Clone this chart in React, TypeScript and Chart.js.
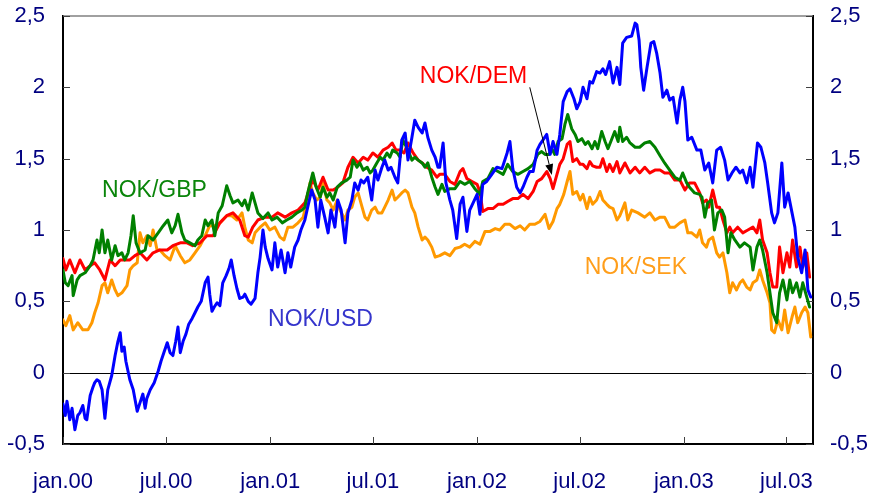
import React, { useEffect, useRef } from "react";
import { Chart, registerables } from "chart.js";

Chart.register(...registerables);

// x positions are days since 1 Jan 2000
const tickDays = [0, 182, 366, 547, 731, 912, 1096, 1277];
const tickLabels = ["jan.00", "jul.00", "jan.01", "jul.01", "jan.02", "jul.02", "jan.03", "jul.03"];
const yTickValues = [-0.5, 0, 0.5, 1, 1.5, 2, 2.5];

const usdDays = [
  0, 4, 7, 12, 16, 21, 26, 30, 35, 39,
  42, 48, 53, 56, 60, 64, 69, 74, 79, 86,
  92, 97, 101, 104, 108, 111, 118, 124, 131, 136,
  141, 145, 148, 154, 161, 168, 173, 178, 184, 189,
  194, 199, 203, 207, 212, 217, 222, 228, 233, 238,
  244, 251, 256, 259, 263, 267, 272, 277, 282, 288,
  293, 297, 302, 307, 312, 318, 321, 327, 332, 339,
  344, 348, 353, 357, 362, 369, 374, 379, 385, 392,
  397, 402, 409, 415, 420, 427, 432, 439, 445, 450,
  455, 462, 468, 473, 480, 485, 491, 498, 503, 510,
  515, 521, 526, 531, 538, 545, 551, 556, 563, 568,
  574, 579, 586, 591, 598, 604, 609, 616, 621, 627,
  634, 639, 644, 651, 657, 662, 665, 671, 676, 683,
  688, 695, 701, 706, 713, 718, 724, 731, 736, 741,
  748, 757, 766, 775, 784, 789, 794, 801, 807, 812,
  819, 824, 830, 837, 842, 849, 854, 860, 865, 872,
  877, 883, 890, 895, 902, 907, 913, 918, 925, 930,
  935, 942, 948, 953, 958, 965, 971, 978, 983, 988,
  995, 1004, 1010, 1013, 1017, 1020, 1025, 1031, 1038, 1043,
  1048, 1054, 1059, 1066, 1071, 1077, 1084, 1089, 1094, 1098,
  1103, 1110, 1119, 1126, 1133, 1140, 1147, 1154, 1161, 1168,
  1174, 1181, 1188, 1195, 1200, 1207, 1213, 1218, 1226, 1232,
  1239, 1244, 1251, 1256, 1262, 1269, 1274, 1280, 1287, 1292,
  1297, 1304, 1310, 1315, 1320,
];
const usdValues = [
  -0.22, -0.3, -0.2, -0.33, -0.25, -0.4, -0.3, -0.28, -0.23, -0.32,
  -0.33, -0.16, -0.1, -0.07, -0.05, -0.06, -0.12, -0.32, -0.12, -0.02,
  0.12, 0.22, 0.28, 0.15, 0.18, 0.08, -0.05, -0.12, -0.27, -0.21,
  -0.15, -0.25, -0.18, -0.12, -0.07, 0.01, 0.08, 0.14, 0.21, 0.14,
  0.12, 0.22, 0.32, 0.14, 0.22, 0.27, 0.34, 0.38, 0.42, 0.46,
  0.5, 0.63, 0.67, 0.55, 0.43, 0.46, 0.49, 0.47, 0.63, 0.68,
  0.73, 0.79, 0.68, 0.59, 0.52, 0.53, 0.55, 0.5, 0.48, 0.52,
  0.7, 0.81, 1.0, 0.88, 0.8, 0.72, 0.91, 0.74, 0.86, 0.7,
  0.84, 0.74, 0.88, 0.93, 1.0, 1.07, 1.16, 1.28, 1.21, 1.02,
  1.21, 1.09, 0.98, 1.14, 1.02, 1.21, 1.14, 0.91, 1.12, 1.21,
  1.33, 1.28, 1.35, 1.33, 1.37, 1.21, 1.42, 1.35, 1.44, 1.49,
  1.42, 1.44, 1.37, 1.33, 1.63, 1.68, 1.49, 1.65, 1.77, 1.72,
  1.68, 1.75, 1.65, 1.56, 1.51, 1.44, 1.44, 1.61, 1.33, 1.21,
  1.14, 0.94, 1.18, 1.23, 0.99, 1.14, 1.19, 1.25, 1.11, 1.32,
  1.34, 1.39, 1.44, 1.43, 1.54, 1.62, 1.43, 1.3, 1.26, 1.3,
  1.37, 1.41, 1.41, 1.56, 1.6, 1.64, 1.67, 1.53, 1.62, 1.53,
  1.67, 1.9, 1.97, 1.99, 1.92, 1.85, 1.9, 2.0, 1.92, 2.04,
  2.03, 2.11, 2.1, 2.13, 2.09, 2.18, 2.03, 2.14, 2.02, 2.31,
  2.35, 2.36, 2.45, 2.44, 2.33, 2.14, 1.98, 2.14, 2.31, 2.32,
  2.24, 2.1, 1.93, 1.98, 1.91, 1.93, 1.75, 1.91, 2.0, 1.9,
  1.63, 1.65, 1.56, 1.56, 1.42, 1.47, 1.33, 1.56, 1.58, 1.49,
  1.35, 1.4, 1.44, 1.4, 1.42, 1.33, 1.44, 1.3, 1.61, 1.58,
  1.47, 1.33, 1.12, 1.05, 1.12, 1.47, 1.16, 1.26, 1.12, 1.02,
  0.81, 0.7, 0.86, 0.58, 0.53,
];

const gbpDays = [
  0, 4, 9, 16, 18, 25, 30, 39, 48, 53,
  60, 64, 69, 74, 79, 86, 92, 97, 104, 109,
  115, 120, 124, 129, 136, 145, 150, 159, 168, 177,
  185, 192, 198, 203, 210, 215, 224, 233, 238, 245,
  251, 256, 263, 268, 274, 281, 289, 295, 300, 309,
  316, 321, 327, 334, 339, 344, 353, 362, 369, 378,
  387, 395, 404, 413, 422, 427, 432, 441, 447, 454,
  459, 466, 471, 477, 484, 492, 501, 507, 512, 519,
  524, 530, 537, 542, 547, 554, 560, 565, 572, 577,
  582, 590, 595, 600, 609, 616, 621, 627, 634, 639,
  644, 651, 657, 662, 669, 674, 683, 692, 701, 709,
  718, 727, 736, 741, 750, 759, 768, 777, 785, 794,
  803, 812, 821, 830, 838, 845, 851, 858, 863, 868,
  874, 881, 886, 891, 898, 904, 909, 916, 922, 927,
  934, 939, 944, 951, 957, 962, 969, 974, 980, 983,
  988, 995, 1001, 1010, 1018, 1027, 1036, 1045, 1054, 1062,
  1071, 1080, 1089, 1094, 1101, 1106, 1115, 1124, 1128, 1133,
  1138, 1145, 1150, 1156, 1163, 1168, 1174, 1179, 1186, 1195,
  1203, 1213, 1218, 1225, 1230, 1235, 1243, 1248, 1253, 1260,
  1265, 1271, 1278, 1283, 1288, 1295, 1301, 1306, 1313, 1318,
];
const gbpValues = [
  0.72, 0.63, 0.61, 0.68, 0.54, 0.65, 0.68, 0.7, 0.75, 0.79,
  0.93, 0.84, 1.0, 0.84, 0.93, 0.79, 0.89, 0.82, 0.84, 0.79,
  0.84, 0.96, 1.1, 0.91, 0.84, 0.86, 0.96, 0.93, 0.98, 1.03,
  1.07, 0.98, 1.03, 1.11, 0.98, 0.93, 0.91, 0.89, 0.93, 0.96,
  1.07, 1.03, 1.07, 0.96, 1.12, 1.17, 1.31, 1.24, 1.19, 1.21,
  1.17, 1.21, 1.14, 1.26, 1.19, 1.12, 1.08, 1.12, 1.07, 1.09,
  1.05, 1.07, 1.09, 1.12, 1.14, 1.16, 1.26, 1.4, 1.3, 1.23,
  1.3, 1.23, 1.26, 1.21, 1.3, 1.33, 1.35, 1.37, 1.49, 1.44,
  1.47, 1.42, 1.44, 1.4, 1.42, 1.47, 1.51, 1.49, 1.54, 1.51,
  1.56, 1.54, 1.51, 1.63, 1.56, 1.49, 1.51, 1.49, 1.47, 1.44,
  1.47, 1.37, 1.3, 1.25, 1.32, 1.27, 1.29, 1.29, 1.34, 1.32,
  1.34, 1.29, 1.25, 1.34, 1.36, 1.43, 1.41, 1.39, 1.46, 1.41,
  1.39, 1.41, 1.43, 1.46, 1.53, 1.55, 1.53, 1.53, 1.57, 1.53,
  1.62, 1.64, 1.74, 1.81, 1.71, 1.67, 1.62, 1.64, 1.6, 1.62,
  1.57, 1.62, 1.57, 1.69, 1.62, 1.57, 1.64, 1.69, 1.62, 1.72,
  1.62, 1.65, 1.61, 1.58, 1.58, 1.61, 1.62, 1.58, 1.52, 1.47,
  1.42, 1.37, 1.35, 1.4, 1.33, 1.3, 1.26, 1.25, 1.23, 1.09,
  1.19, 1.21, 1.0, 1.12, 1.14, 1.09, 0.84, 0.98, 0.93, 0.88,
  0.91, 0.88, 0.72, 0.88, 0.93, 0.86, 0.7, 0.56, 0.42, 0.35,
  0.56, 0.65, 0.51, 0.65, 0.56, 0.63, 0.53, 0.63, 0.53, 0.46,
];

const demDays = [
  0, 5, 12, 21, 30, 39, 48, 56, 65, 74,
  83, 92, 101, 109, 118, 127, 136, 148, 159, 171,
  184, 194, 207, 219, 229, 242, 254, 265, 277, 289,
  300, 312, 321, 327, 335, 344, 357, 369, 379, 392,
  404, 415, 427, 436, 441, 450, 459, 468, 477, 485,
  494, 503, 512, 521, 530, 538, 547, 556, 565, 574,
  581, 588, 595, 602, 609, 618, 627, 634, 642, 651,
  660, 665, 674, 683, 692, 701, 706, 713, 722, 731,
  736, 741, 750, 759, 768, 777, 785, 794, 803, 812,
  821, 830, 837, 845, 854, 860, 865, 872, 877, 883,
  890, 895, 900, 907, 913, 918, 925, 930, 935, 942,
  948, 953, 960, 965, 971, 978, 983, 992, 1001, 1010,
  1018, 1027, 1036, 1045, 1054, 1062, 1071, 1080, 1089, 1098,
  1106, 1115, 1124, 1129, 1136, 1140, 1147, 1154, 1159, 1165,
  1172, 1177, 1182, 1191, 1200, 1209, 1218, 1225, 1230, 1235,
  1243, 1248, 1253, 1260, 1265, 1271, 1278, 1283, 1288, 1295,
  1301, 1306, 1313, 1318,
];
const demValues = [
  0.8, 0.72, 0.79, 0.7, 0.79, 0.72, 0.75, 0.77, 0.72, 0.65,
  0.79, 0.75, 0.79, 0.79, 0.79, 0.82, 0.84, 0.79, 0.84, 0.86,
  0.86, 0.89, 0.91, 0.91, 0.89, 0.91, 0.96, 0.96, 1.05, 1.1,
  1.12, 1.07, 0.96, 0.95, 1.02, 1.07, 1.09, 1.09, 1.12, 1.09,
  1.12, 1.14, 1.19, 1.3, 1.35, 1.28, 1.37, 1.28, 1.28, 1.3,
  1.33, 1.44, 1.51, 1.47, 1.51, 1.49, 1.54, 1.51, 1.56, 1.58,
  1.61, 1.56, 1.56, 1.54, 1.61, 1.54, 1.49, 1.47, 1.44, 1.42,
  1.37, 1.39, 1.39, 1.34, 1.32, 1.41, 1.43, 1.36, 1.34, 1.32,
  1.27, 1.13, 1.15, 1.15, 1.18, 1.18, 1.2, 1.22, 1.22, 1.25,
  1.22, 1.27, 1.34, 1.36, 1.41, 1.36, 1.29, 1.39, 1.46, 1.5,
  1.6, 1.62, 1.48, 1.5, 1.46, 1.46, 1.43, 1.48, 1.45, 1.44,
  1.44, 1.5, 1.41, 1.46, 1.41, 1.48, 1.4, 1.47, 1.4, 1.44,
  1.4, 1.44, 1.4, 1.42, 1.42, 1.4, 1.4, 1.35, 1.35, 1.28,
  1.33, 1.33, 1.26, 1.19, 1.21, 1.16, 1.28, 1.16, 1.16, 1.07,
  0.98, 1.02, 0.98, 1.02, 0.98, 1.0, 1.02, 0.98, 1.07, 0.93,
  0.84, 0.7, 0.6, 0.6, 0.88, 0.7, 0.84, 0.74, 0.93, 0.74,
  0.88, 0.74, 0.84, 0.67,
];

const sekDays = [
  0, 5, 12, 18, 26, 35, 44, 51, 56, 62,
  69, 74, 79, 86, 92, 97, 104, 113, 118, 124,
  131, 136, 141, 148, 154, 159, 166, 171, 180, 189,
  198, 207, 215, 224, 233, 242, 251, 259, 268, 277,
  289, 298, 307, 316, 321, 327, 334, 339, 348, 357,
  365, 374, 383, 390, 397, 406, 415, 424, 431, 436,
  441, 448, 454, 459, 466, 471, 477, 484, 489, 498,
  503, 510, 515, 521, 528, 533, 538, 545, 551, 556,
  563, 568, 574, 581, 586, 591, 598, 604, 609, 616,
  621, 627, 634, 639, 644, 651, 657, 665, 674, 683,
  692, 701, 709, 718, 727, 736, 745, 754, 763, 771,
  780, 789, 798, 807, 815, 824, 833, 842, 851, 858,
  865, 872, 877, 884, 890, 895, 900, 907, 913, 918,
  925, 930, 935, 942, 948, 953, 960, 965, 971, 978,
  983, 992, 997, 1004, 1015, 1027, 1036, 1045, 1054, 1062,
  1071, 1080, 1089, 1098, 1103, 1110, 1119, 1124, 1129, 1136,
  1140, 1147, 1154, 1159, 1165, 1172, 1177, 1182, 1189, 1195,
  1200, 1207, 1213, 1218, 1225, 1230, 1235, 1243, 1248, 1251,
  1256, 1262, 1269, 1274, 1280, 1287, 1292, 1297, 1304, 1310,
  1315, 1320,
];
const sekValues = [
  0.37, 0.33, 0.4, 0.3, 0.35, 0.3, 0.3, 0.35, 0.42, 0.49,
  0.61, 0.63, 0.56, 0.65, 0.58, 0.54, 0.56, 0.61, 0.72, 0.75,
  0.77, 0.98, 0.91, 0.96, 0.89, 1.0, 0.86, 0.86, 0.82, 0.79,
  0.89, 0.82, 0.77, 0.79, 0.84, 0.89, 0.96, 1.03, 1.03, 1.05,
  1.1, 1.1, 1.07, 1.12, 1.02, 0.93, 0.91, 0.98, 1.02, 1.05,
  1.0, 1.02, 0.95, 0.93, 1.02, 1.02, 1.05, 1.09, 1.21, 1.33,
  1.26, 1.21, 1.23, 1.33, 1.21, 1.19, 1.14, 1.21, 1.14, 1.07,
  1.14, 1.16, 1.23, 1.26, 1.16, 1.09, 1.07, 1.14, 1.16, 1.12,
  1.12, 1.16, 1.21, 1.28, 1.21, 1.23, 1.26, 1.28, 1.26, 1.16,
  1.12, 1.02, 0.93, 0.95, 0.93, 0.88, 0.81, 0.82, 0.84, 0.82,
  0.87, 0.88, 0.9, 0.88, 0.92, 0.9, 0.99, 0.99, 1.01, 1.0,
  1.04, 1.04, 1.01, 1.03, 1.0, 1.04, 1.04, 1.06, 1.11, 1.01,
  1.06, 1.15, 1.18, 1.25, 1.34, 1.41, 1.25, 1.27, 1.21, 1.25,
  1.15, 1.23, 1.18, 1.21, 1.27, 1.21, 1.18, 1.16, 1.15, 1.07,
  1.1, 1.19, 1.07, 1.14, 1.12, 1.09, 1.12, 1.07, 1.09, 1.09,
  1.02, 1.02, 1.05, 1.07, 0.98, 0.98, 0.95, 1.0, 0.91, 0.88,
  0.93, 0.95, 0.84, 0.81, 0.84, 0.7, 0.56, 0.63, 0.58, 0.63,
  0.65, 0.6, 0.58, 0.63, 0.65, 0.72, 0.65, 0.56, 0.49, 0.3,
  0.28, 0.37, 0.3, 0.44, 0.28, 0.39, 0.46, 0.35, 0.42, 0.46,
  0.42, 0.25,
];

// text annotations, placed in data coordinates (day, value)
const seriesLabels = [
  { text: "NOK/GBP", day: 69, value: 1.23, color: "#0a850a" },
  { text: "NOK/DEM", day: 630, value: 2.03, color: "#ff0000" },
  { text: "NOK/USD", day: 362, value: 0.327, color: "#3535cc" },
  { text: "NOK/SEK", day: 921, value: 0.692, color: "#ff9e1b" },
];
const arrowFrom = { day: 824, value: 2.0 };
const arrowTo = { day: 863, value: 1.385 };

const FONT = "'Liberation Sans', Arial, sans-serif";

const fmt = (v: number) => String(v).replace(".", ",");

const pairs = (days: number[], vals: number[]) => days.map((d, i) => ({ x: d, y: vals[i] }));

const decorPlugin = {
  id: "decor",
  beforeDatasetsDraw(chart: any) {
    const { ctx, chartArea: a, scales } = chart;
    const x = scales.x;
    const y = scales.y;
    ctx.save();
    // zero line
    const y0 = Math.round(y.getPixelForValue(0)) + 0.5;
    ctx.strokeStyle = "#000";
    ctx.lineWidth = 1;
    ctx.beginPath();
    ctx.moveTo(a.left, y0);
    ctx.lineTo(a.right, y0);
    ctx.stroke();
    // top frame line
    ctx.strokeStyle = "#808080";
    ctx.lineWidth = 1.5;
    ctx.beginPath();
    ctx.moveTo(a.left, a.top);
    ctx.lineTo(a.right, a.top);
    ctx.stroke();
    // inward tick marks
    ctx.strokeStyle = "#404040";
    ctx.lineWidth = 1;
    yTickValues.forEach((v) => {
      const py = Math.round(y.getPixelForValue(v)) + 0.5;
      ctx.beginPath();
      ctx.moveTo(a.left, py);
      ctx.lineTo(a.left + 7, py);
      ctx.moveTo(a.right - 7, py);
      ctx.lineTo(a.right, py);
      ctx.stroke();
    });
    tickDays.forEach((d) => {
      const px = Math.round(x.getPixelForValue(d)) + 0.5;
      ctx.beginPath();
      ctx.moveTo(px, a.bottom);
      ctx.lineTo(px, a.bottom - 7);
      ctx.stroke();
    });
    ctx.restore();
  },
  afterDatasetsDraw(chart: any) {
    const { ctx, scales } = chart;
    const x = scales.x;
    const y = scales.y;
    ctx.save();
    ctx.font = `23px ${FONT}`;
    ctx.textBaseline = "alphabetic";
    ctx.textAlign = "left";
    seriesLabels.forEach((l) => {
      ctx.fillStyle = l.color;
      ctx.fillText(l.text, x.getPixelForValue(l.day), y.getPixelForValue(l.value));
    });
    // arrow
    const x1 = x.getPixelForValue(arrowFrom.day);
    const y1 = y.getPixelForValue(arrowFrom.value);
    const x2 = x.getPixelForValue(arrowTo.day);
    const y2 = y.getPixelForValue(arrowTo.value);
    const ang = Math.atan2(y2 - y1, x2 - x1);
    const len = 11;
    const half = 4;
    const bx = x2 - len * Math.cos(ang);
    const by = y2 - len * Math.sin(ang);
    ctx.strokeStyle = "#000";
    ctx.lineWidth = 1;
    ctx.beginPath();
    ctx.moveTo(x1, y1);
    ctx.lineTo(bx, by);
    ctx.stroke();
    ctx.fillStyle = "#000";
    ctx.beginPath();
    ctx.moveTo(x2, y2);
    ctx.lineTo(bx + half * Math.sin(ang), by - half * Math.cos(ang));
    ctx.lineTo(bx - half * Math.sin(ang), by + half * Math.cos(ang));
    ctx.closePath();
    ctx.fill();
    ctx.restore();
  },
};

export default function App() {
  const canvasRef = useRef<HTMLCanvasElement | null>(null);

  useEffect(() => {
    document.body.style.margin = "0";
    const canvas = canvasRef.current;
    if (!canvas) return;
    const lineStyle = {
      borderWidth: 3,
      pointRadius: 0,
      tension: 0,
      borderJoinStyle: "round" as const,
      borderCapStyle: "round" as const,
      fill: false,
    };
    const yAxisCommon = {
      type: "linear" as const,
      min: -0.5,
      max: 2.5,
      grid: { display: false, drawTicks: false },
      border: { display: true, color: "#000", width: 2 },
      ticks: {
        stepSize: 0.5,
        padding: 18,
        color: "#000080",
        font: { family: FONT, size: 22 },
        callback: (v: any) => fmt(Number(v)),
      },
    };
    const chart = new Chart(canvas, {
      type: "line",
      data: {
        datasets: [
          { ...lineStyle, label: "NOK/USD", data: pairs(usdDays, usdValues), borderColor: "#0000ff" },
          { ...lineStyle, label: "NOK/GBP", data: pairs(gbpDays, gbpValues), borderColor: "#008000" },
          { ...lineStyle, label: "NOK/DEM", data: pairs(demDays, demValues), borderColor: "#ff0000" },
          { ...lineStyle, label: "NOK/SEK", data: pairs(sekDays, sekValues), borderColor: "#ff9900" },
        ],
      },
      options: {
        animation: false,
        responsive: false,
        devicePixelRatio: 1,
        events: [],
        layout: { padding: { top: 16, left: 0, right: 0, bottom: 0 } },
        plugins: { legend: { display: false }, tooltip: { enabled: false } },
        scales: {
          x: {
            type: "linear",
            position: "bottom",
            min: 0,
            max: 1324,
            grid: { display: false, drawTicks: false },
            border: { display: true, color: "#000", width: 2 },
            afterBuildTicks: (scale: any) => {
              scale.ticks = tickDays.map((d) => ({ value: d }));
            },
            afterFit: (scale: any) => {
              scale.height = 50;
              scale.paddingLeft = 0;
              scale.paddingRight = 0;
            },
            ticks: {
              autoSkip: false,
              maxRotation: 0,
              padding: 25,
              color: "#000080",
              font: { family: FONT, size: 22 },
              callback: (_v: any, i: number) => tickLabels[i],
            },
          },
          y: {
            ...yAxisCommon,
            position: "left",
            afterFit: (scale: any) => {
              scale.width = 63;
              scale.paddingTop = 0;
              scale.paddingBottom = 0;
            },
          },
          y2: {
            ...yAxisCommon,
            position: "right",
            ticks: { ...yAxisCommon.ticks, padding: 17 },
            afterFit: (scale: any) => {
              scale.width = 64;
              scale.paddingTop = 0;
              scale.paddingBottom = 0;
            },
          },
        },
      } as any,
      plugins: [decorPlugin],
    });
    return () => chart.destroy();
  }, []);

  return (
    <div style={{ position: "absolute", left: 0, top: 0, width: 877, height: 494, background: "#fff" }}>
      <canvas ref={canvasRef} width={877} height={494} style={{ display: "block" }} />
    </div>
  );
}
